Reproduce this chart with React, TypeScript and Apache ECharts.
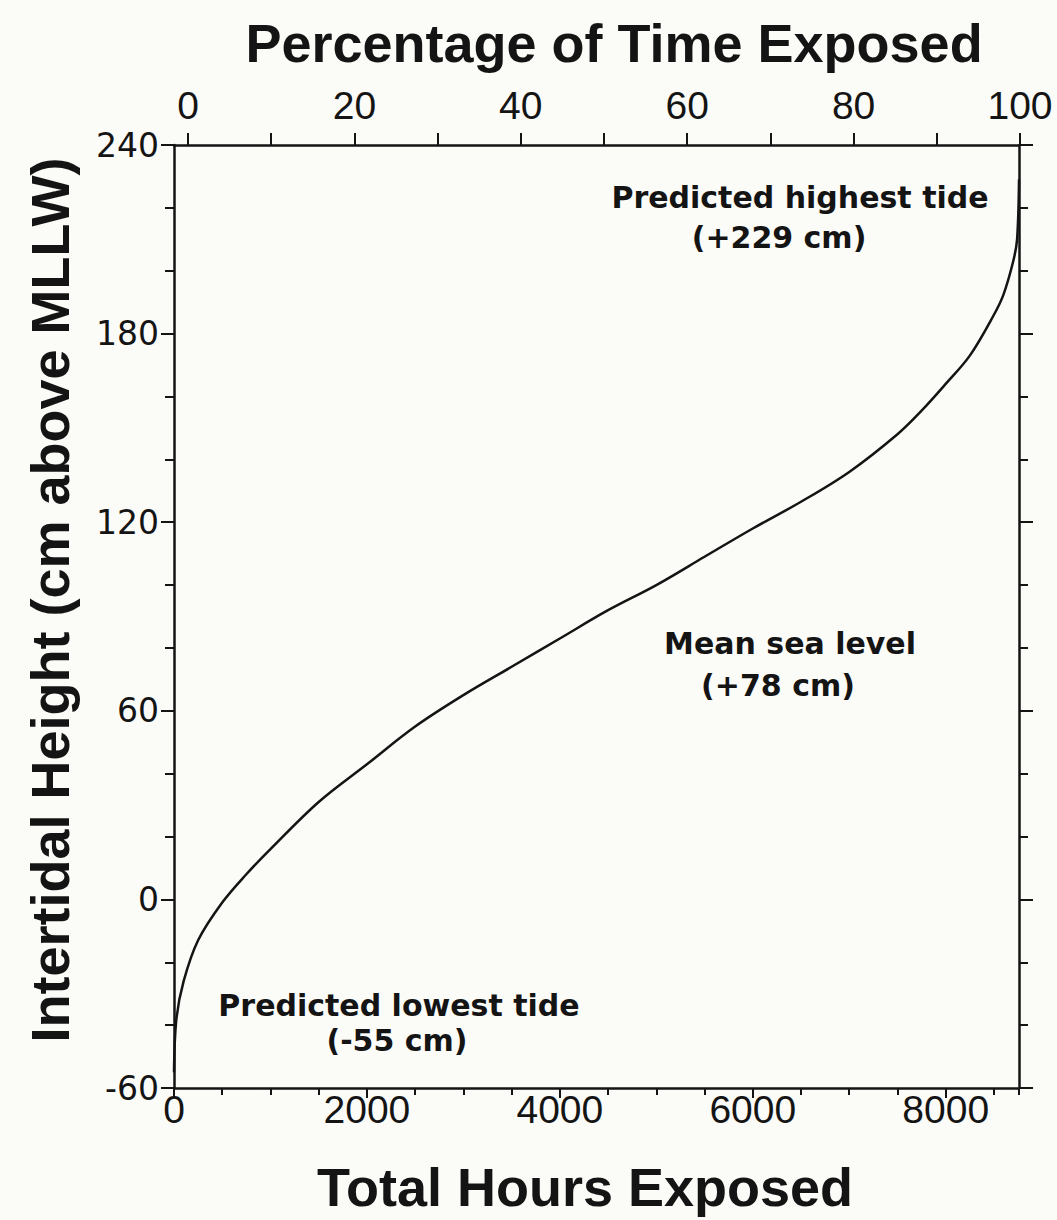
import React, { useEffect, useRef } from "react";
import * as echarts from "echarts";

// Cumulative exposure curve
const HOURS_EXPOSED = [0, 25, 100, 250, 500, 750, 1000, 1500, 2000, 2500, 3000, 3500, 4000, 4500, 5000, 5500, 6000, 6500, 7000, 7500, 7750, 8000, 8250, 8500, 8600, 8700, 8740, 8760];
const HEIGHT_CM = [-55, -38, -26, -13, -1, 8, 16, 31, 43, 55, 65, 74, 83, 92, 100, 109, 118, 126.5, 136, 148, 155.5, 164, 173, 186, 192.5, 203, 210, 229];

const HOURS_MAX = 8760;
const HOURS_MAJOR = 2000;
const HOURS_MINOR = 500;
const PERCENT_STEP = 10;
const PERCENT_LABEL_STEP = 20;
const HEIGHT_MIN = -60;
const HEIGHT_MAX = 240;
const HEIGHT_STEP = 60;

const TITLE_TOP = "Percentage of Time Exposed";
const TITLE_BOTTOM = "Total Hours Exposed";
const TITLE_LEFT = "Intertidal Height (cm above MLLW)";

const ANNOTATIONS = [
  { text: "Predicted highest tide", x: 800, y: 197 },
  { text: "(+229 cm)", x: 779, y: 237 },
  { text: "Mean sea level", x: 790, y: 643 },
  { text: "(+78 cm)", x: 778, y: 685 },
  { text: "Predicted lowest tide", x: 399, y: 1005 },
  { text: "(-55 cm)", x: 397, y: 1040 },
];

export default function App() {
  const ref = useRef<HTMLDivElement>(null);

  useEffect(() => {
    if (!ref.current) return;
    const chart = echarts.init(ref.current, null, { renderer: "svg" });
    const ink = "#141414";
    const axisLine = { show: true, onZero: false, lineStyle: { color: ink, width: 2.5 } };
    const tickStyle = { color: ink, width: 2 };
    const titleFont = "bold 54px 'Liberation Sans', Arial, sans-serif";
    const annFont = "bold 30px 'DejaVu Sans', sans-serif";
    const plain = (v: number) => String(v);

    const data = HOURS_EXPOSED.map((h, i) => [h, HEIGHT_CM[i]]);

    chart.setOption({
      animation: false,
      backgroundColor: "#fbfbf8",
      grid: [
        { left: 174, right: 38, top: 145, bottom: 132 },
        { left: 188, right: 37, top: 145, bottom: 132 },
      ],
      xAxis: [
        {
          type: "value", gridIndex: 0, position: "bottom",
          min: 0, max: HOURS_MAX, interval: HOURS_MINOR,
          axisLine,
          axisTick: { show: true, inside: false, length: 7, lineStyle: tickStyle },
          axisLabel: { show: false },
          splitLine: { show: false },
        },
        {
          type: "value", gridIndex: 0, position: "bottom",
          min: 0, max: HOURS_MAX, interval: HOURS_MAJOR,
          axisLine: { show: false, onZero: false },
          axisTick: { show: true, inside: false, length: 10, lineStyle: tickStyle },
          axisLabel: {
            show: true, showMaxLabel: false, color: ink, formatter: plain,
            fontFamily: "'Liberation Sans', Arial, sans-serif", fontSize: 39, margin: 2,
          },
          splitLine: { show: false },
        },
        {
          type: "value", gridIndex: 1, position: "top",
          min: 0, max: 100, interval: PERCENT_STEP,
          axisLine: { show: false, onZero: false },
          axisTick: { show: true, inside: false, length: 12, lineStyle: tickStyle },
          axisLabel: {
            show: true, color: ink, margin: 20,
            fontFamily: "'Liberation Sans', Arial, sans-serif", fontSize: 39,
            formatter: (v: number) => (v % PERCENT_LABEL_STEP === 0 ? String(v) : ""),
          },
          splitLine: { show: false },
        },
        {
          type: "value", gridIndex: 0, position: "top",
          min: 0, max: HOURS_MAX,
          axisLine,
          axisTick: { show: false },
          axisLabel: { show: false },
          splitLine: { show: false },
        },
      ],
      yAxis: [
        {
          type: "value", gridIndex: 0, position: "left",
          min: HEIGHT_MIN, max: HEIGHT_MAX, interval: HEIGHT_STEP,
          axisLine,
          axisTick: { show: true, inside: false, length: 13, lineStyle: tickStyle },
          minorTick: { show: true, splitNumber: 3, length: 9, lineStyle: tickStyle },
          axisLabel: {
            show: true, color: ink, margin: 15, formatter: plain,
            fontFamily: "'DejaVu Sans', sans-serif", fontSize: 33,
          },
          splitLine: { show: false },
          minorSplitLine: { show: false },
        },
        {
          type: "value", gridIndex: 0, position: "right",
          min: HEIGHT_MIN, max: HEIGHT_MAX, interval: HEIGHT_STEP,
          axisLine,
          axisTick: { show: true, inside: false, length: 14, lineStyle: tickStyle },
          minorTick: { show: true, splitNumber: 3, length: 9, lineStyle: tickStyle },
          axisLabel: { show: false },
          splitLine: { show: false },
          minorSplitLine: { show: false },
        },
        {
          type: "value", gridIndex: 1, show: false,
          min: HEIGHT_MIN, max: HEIGHT_MAX,
        },
      ],
      series: [
        {
          type: "line",
          xAxisIndex: 0,
          yAxisIndex: 0,
          data,
          symbol: "none",
          showSymbol: false,
          smooth: 0.35,
          lineStyle: { color: ink, width: 2.5 },
          silent: true,
        },
      ],
      graphic: [
        {
          type: "text", x: 614, y: 43,
          style: { text: TITLE_TOP, font: titleFont, fill: ink, align: "center", verticalAlign: "middle" },
        },
        {
          type: "text", x: 585, y: 1187,
          style: { text: TITLE_BOTTOM, font: titleFont, fill: ink, align: "center", verticalAlign: "middle" },
        },
        {
          type: "text", x: 50, y: 600, rotation: Math.PI / 2,
          style: { text: TITLE_LEFT, font: titleFont, fill: ink, align: "center", verticalAlign: "middle" },
        },
        ...ANNOTATIONS.map((a) => ({
          type: "text", x: a.x, y: a.y,
          style: { text: a.text, font: annFont, fill: ink, align: "center", verticalAlign: "middle" },
        })),
      ],
    });

    return () => chart.dispose();
  }, []);

  return (
    <div
      ref={ref}
      style={{ position: "absolute", left: 0, top: 0, width: 1057, height: 1220 }}
    />
  );
}
